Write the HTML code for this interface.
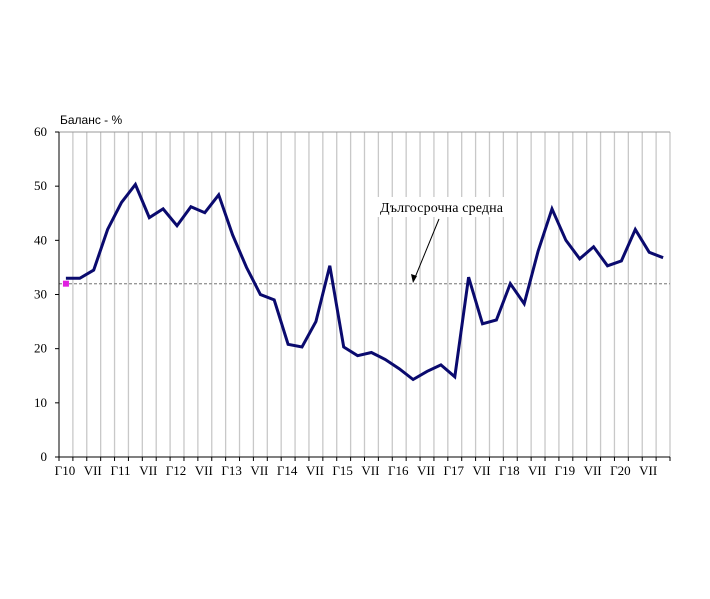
<!DOCTYPE html>
<html><head><meta charset="utf-8"><style>body{margin:0;background:#fff}svg{display:block}</style></head>
<body>
<svg id="c" width="710" height="599" xmlns="http://www.w3.org/2000/svg" font-family="Liberation Serif, serif" font-size="13"></svg>
<script>
const L=59,R=670,T=132,B=457,n=44,w=(R-L)/n;
const vals=[33,33,34.5,42,47,50.3,44.2,45.8,42.7,46.2,45.1,48.4,41,35,30,29,20.8,20.3,25,35.3,20.3,18.7,19.3,18,16.3,14.3,15.8,17,14.8,33.2,24.6,25.3,32,28.3,38,45.8,40,36.6,38.8,35.3,36.2,42,37.8,36.8];
const y=v=>B-(B-T)*v/60;
let s='';
for(let i=1;i<=n;i++){const x=L+w*i;s+=`<line x1="${x}" y1="${T}" x2="${x}" y2="${B}" stroke="#c8c8c8" stroke-width="1.3"/>`;}
s+=`<line x1="${L}" y1="${T}" x2="${R}" y2="${T}" stroke="#999" stroke-width="1"/>`;
s+=`<line x1="${L}" y1="${y(32)}" x2="${R}" y2="${y(32)}" stroke="#999" stroke-width="1.3" stroke-dasharray="3,2"/>`;
s+=`<line x1="${L}" y1="${T}" x2="${L}" y2="${B}" stroke="#000"/>`;
s+=`<line x1="${L}" y1="${B}" x2="${R}" y2="${B}" stroke="#000"/>`;
for(let v=0;v<=60;v+=10){const yy=y(v);s+=`<line x1="${L-4}" y1="${yy}" x2="${L}" y2="${yy}" stroke="#000"/><text x="${L-12}" y="${yy+4}" text-anchor="end">${v}</text>`;}
for(let i=0;i<=n;i++){const x=L+w*i;s+=`<line x1="${x}" y1="${B}" x2="${x}" y2="${B+4}" stroke="#000"/>`;}
for(let k=0;k<22;k++){const x=L+w*(2*k+0.5)-1;const lab=k%2? 'VII':'Г'+(10+k/2);s+=`<text x="${x}" y="${B+18}" text-anchor="middle">${lab}</text>`;}
s+=`<polyline fill="none" stroke="#0a0a6e" stroke-width="3" stroke-linejoin="miter" points="${vals.map((v,i)=>(L+w*(i+0.5)).toFixed(1)+','+y(v).toFixed(1)).join(' ')}"/>`;
s+=`<rect x="${L+w*0.5-3}" y="${y(32)-3}" width="6" height="6" fill="#e020e0"/>`;
s+=`<rect x="377" y="197" width="130" height="20" fill="#fff"/><text x="380" y="212" font-size="14" textLength="123">Дългосрочна средна</text>`;
s+=`<line x1="439" y1="219" x2="414" y2="280" stroke="#000"/><polygon points="413,283 411,274 417,276" fill="#000"/>`;
s+=`<text x="60" y="124" font-family="Liberation Sans, sans-serif" font-size="12">Баланс - %</text>`;
document.getElementById('c').innerHTML=s;
</script>
</body></html>
